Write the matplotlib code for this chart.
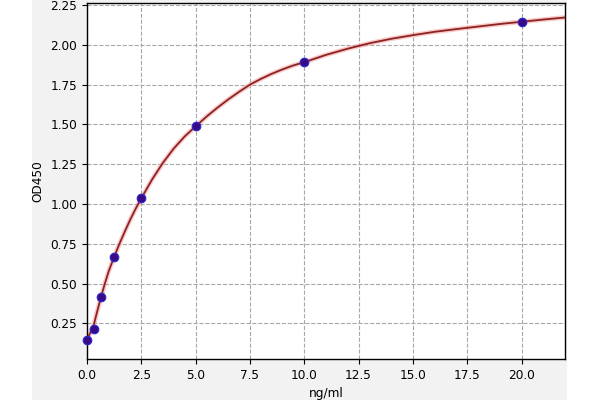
import matplotlib
matplotlib.use("Agg")
import matplotlib.pyplot as plt
from matplotlib.patches import Rectangle

# Standard points
conc = [0.0, 0.3125, 0.625, 1.25, 2.5, 5.0, 10.0, 20.0]
od = [0.143, 0.217, 0.415, 0.667, 1.035, 1.487, 1.891, 2.145]

# Fitted curve
curve_x = [0.0, 0.15, 0.3125, 0.45, 0.625, 0.8, 1.0, 1.25, 1.5, 1.75, 2.0,
           2.25, 2.5, 3.0, 3.5, 4.0, 4.5, 5.0, 5.5, 6.0, 6.5, 7.0, 7.5, 8.0,
           8.5, 9.0, 9.5, 10.0, 11.0, 12.0, 13.0, 14.0, 15.0, 16.0, 17.0,
           18.0, 19.0, 20.0, 21.0, 22.0]
curve_y = [0.15, 0.19, 0.24, 0.315, 0.405, 0.49, 0.578, 0.668, 0.752, 0.83,
           0.905, 0.973, 1.036, 1.155, 1.26, 1.35, 1.425, 1.488, 1.549, 1.605,
           1.657, 1.705, 1.75, 1.786, 1.818, 1.846, 1.871, 1.891, 1.937,
           1.976, 2.010, 2.038, 2.061, 2.082, 2.099, 2.115, 2.131, 2.145,
           2.159, 2.172]

xticks = [0, 2.5, 5, 7.5, 10, 12.5, 15, 17.5, 20]
yticks = [0.25, 0.5, 0.75, 1.0, 1.25, 1.5, 1.75, 2.0, 2.25]

fs = 8.75

fig = plt.figure(figsize=(6, 4), dpi=100, facecolor="white")
fig.patches.append(Rectangle((32 / 600, 0), (567 - 32) / 600, 1,
                             transform=fig.transFigure, facecolor="#f2f2f2",
                             edgecolor="none", zorder=-10))
ax = fig.add_axes([87 / 600, 1 - 359 / 400, (565 - 87) / 600, (359 - 3) / 400])
ax.set_facecolor("white")

ax.plot(curve_x, curve_y, color="#f4a0a0", lw=3.4, alpha=0.55, zorder=2,
        solid_capstyle="round", solid_joinstyle="round")
ax.plot(curve_x, curve_y, color="#8e2222", lw=1.3, zorder=3,
        solid_joinstyle="round")
ax.plot(conc, od, linestyle="none", marker="o", markersize=6.2,
        markerfacecolor="#3a0a86", markeredgecolor="#2a2ad0",
        markeredgewidth=0.8, zorder=4, clip_on=False)

ax.set_xlim(0, 22)
ax.set_ylim(0.026, 2.263)
ax.set_xticks(xticks)
ax.set_yticks(yticks)
ax.set_xticklabels([f"{t:.1f}" for t in xticks])
ax.set_yticklabels([f"{t:.2f}" for t in yticks])
ax.grid(True, linestyle="--", color="#a8a8a8", linewidth=0.8)
ax.set_axisbelow(True)
ax.tick_params(labelsize=fs)
for s in ax.spines.values():
    s.set_color("black")
    s.set_linewidth(1.0)
ax.set_xlabel("ng/ml", fontsize=fs)
ax.set_ylabel("OD450", fontsize=fs)

fig.savefig("out.png", dpi=100, facecolor=fig.get_facecolor())
